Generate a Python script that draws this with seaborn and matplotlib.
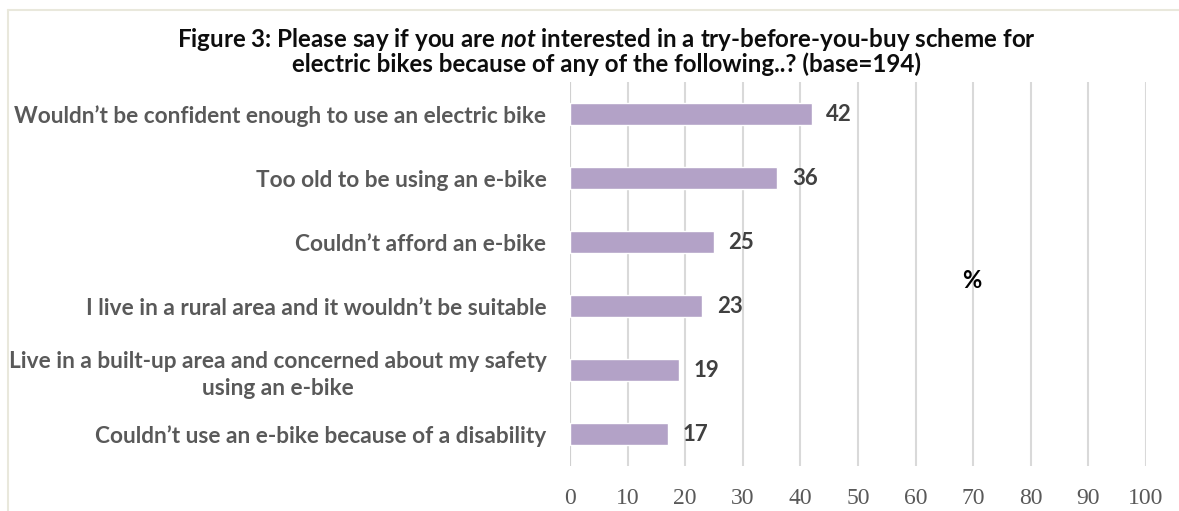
import matplotlib
matplotlib.use("Agg")
import matplotlib.pyplot as plt
import seaborn as sns
import pandas as pd

# Survey responses (% of respondents, base = 194)
reasons = [
    "Wouldn\u2019t be confident enough to use an electric bike",
    "Too old to be using an e-bike",
    "Couldn\u2019t afford an e-bike",
    "I live in a rural area and it wouldn\u2019t be suitable",
    "Live in a built-up area and concerned about my safety\nusing an e-bike",
    "Couldn\u2019t use an e-bike because of a disability",
]
percentages = [42, 36, 25, 23, 19, 17]
x_ticks = [0, 10, 20, 30, 40, 50, 60, 70, 80, 90, 100]

title_line1 = "Figure 3: Please say if you are $\\it{not}$ interested in a try-before-you-buy scheme for"
title_line2 = "electric bikes because of any of the following..? (base=194)"

df = pd.DataFrame({"reason": reasons, "pct": percentages})

sns.set_theme(style="white")
plt.rcParams["font.family"] = ["Lato", "DejaVu Sans"]
plt.rcParams["mathtext.fontset"] = "custom"
plt.rcParams["mathtext.it"] = "Lato:italic:bold"
plt.rcParams["mathtext.rm"] = "Lato:bold"

W, H = 1179, 511
fig = plt.figure(figsize=(W / 100, H / 100), dpi=100)
fig.patch.set_facecolor("white")

# plot area in pixel terms
x0, x1 = 570, 1146
y_top, y_bot = 82, 466
ax = fig.add_axes([x0 / W, 1 - y_bot / H, (x1 - x0) / W, (y_bot - y_top) / H])

bar_color = "#B3A2C7"
sns.barplot(data=df, x="pct", y="reason", orient="h", color=bar_color,
            width=0.34, saturation=1, ax=ax, zorder=3)

ax.set_xlim(0, 100)
ax.set_ylim(len(reasons) - 0.5, -0.5)
ax.set_xticks(x_ticks)
ax.set_xticklabels([str(t) for t in x_ticks], family="Liberation Serif",
                   fontsize=17, color="#595959")
ax.tick_params(axis="x", length=0, pad=16)
ax.tick_params(axis="y", length=0, pad=17)
for lbl in ax.get_yticklabels():
    lbl.set_fontsize(16.3)
    lbl.set_fontweight("bold")
    lbl.set_color("#595959")
    lbl.set_multialignment("center")
    lbl.set_linespacing(1.35)

ax.set_xlabel("")
ax.set_ylabel("")
for s in ax.spines.values():
    s.set_visible(False)

# vertical gridlines
ax.grid(axis="x", color="#D9D9D9", linewidth=1.5, zorder=0)
ax.grid(axis="y", visible=False)
ax.axvline(0, color="#D0D0D0", linewidth=1.5, zorder=1)

# value labels
for i, v in enumerate(percentages):
    ax.text(v + 2.5, i, f"{v}", va="center", ha="left", fontsize=16,
            fontweight="bold", color="#404040")

# axis unit marker
ax.text(69.8, 2.6, "%", ha="center", va="center", fontsize=17,
        fontweight="bold", color="#000000")

# title
fig.text(606 / W, 1 - 39 / H, title_line1, ha="center", va="center",
         fontsize=17.4, fontweight="bold", color="#0D0D0D")
fig.text(606 / W, 1 - 64 / H, title_line2, ha="center", va="center",
         fontsize=17.4, fontweight="bold", color="#0D0D0D")

# chart frame (top and left edges)
frame_kw = dict(color="#E9E8DC", linewidth=1.5, transform=fig.transFigure)
fig.add_artist(plt.Line2D([8 / W, 1], [1 - 10 / H, 1 - 10 / H], **frame_kw))
fig.add_artist(plt.Line2D([8 / W, 8 / W], [0, 1 - 10 / H], **frame_kw))

fig.savefig("out.png", dpi=100)
